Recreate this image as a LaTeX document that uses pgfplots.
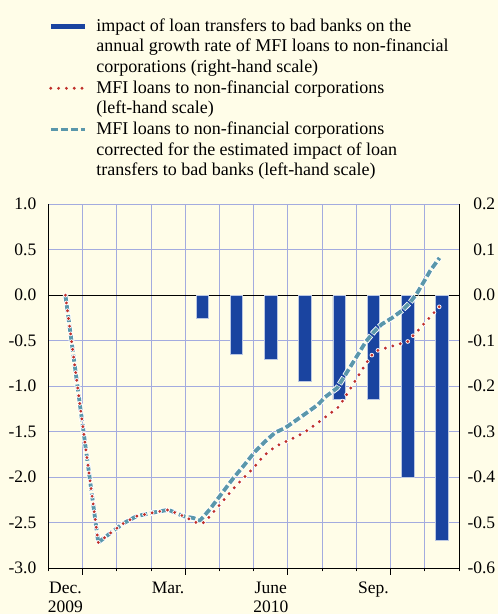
\documentclass[border=0pt]{standalone}
\usepackage{pgfplots}
\pgfplotsset{compat=1.18}
\usepackage{fontspec}
\setmainfont{Liberation Serif}
\definecolor{bgcream}{HTML}{FFFDE8}
\definecolor{gridblue}{HTML}{A3ABDF}
\definecolor{barblue}{HTML}{1A44A0}
\definecolor{dashblue}{HTML}{5A97AB}
\definecolor{dotred}{HTML}{C0302A}
\begin{document}
\begin{tikzpicture}
\fill[bgcream] (-48.3bp,-46bp) rectangle (449.7bp,568bp);
% right-hand scale: bars
\begin{axis}[
  at={(0,0)}, anchor=south west,
  scale only axis, width=410.7bp, height=363.7bp,
  xmin=-0.5, xmax=11.5, ymin=-0.6, ymax=0.2,
  axis x line*=bottom, axis y line*=right,
  axis line style={-, black, line width=0.9bp},
  xtick={-0.5,0.5,1.5,2.5,3.5,4.5,5.5,6.5,7.5,8.5,9.5,10.5,11.5},
  xticklabels={},
  ytick={-0.6,-0.5,-0.4,-0.3,-0.2,-0.1,0,0.1,0.2},
  yticklabels={-0.6,-0.5,-0.4,-0.3,-0.2,-0.1,0.0,0.1,0.2},
  major tick length=0pt,
  grid=major, grid style={gridblue, line width=0.9bp},
  extra y ticks={0}, extra y tick labels={},
  extra y tick style={grid style={black, line width=1.1bp}},
  yticklabel style={font=\fontsize{17.5bp}{20bp}\selectfont, text width=28bp, align=right, inner xsep=0pt, anchor=west, xshift=8bp},
]
\addplot[ybar, bar width=12.5bp, fill=barblue, draw=barblue!30!white, line width=0.6bp]
  coordinates {(4,-0.05) (5,-0.13) (6,-0.14) (7,-0.19) (8,-0.23) (9,-0.23) (10,-0.40) (11,-0.54)};
\end{axis}
% left-hand scale: lines
\begin{axis}[
  at={(0,0)}, anchor=south west,
  scale only axis, width=410.7bp, height=363.7bp,
  xmin=-0.5, xmax=11.5, ymin=-3, ymax=1,
  axis x line*=bottom, axis y line*=left,
  axis line style={-, black, line width=0.9bp},
  xtick={-0.5,0.5,1.5,2.5,3.5,4.5,5.5,6.5,7.5,8.5,9.5,10.5,11.5},
  xticklabels={},
  minor xtick={0.5,3.5,6.5,9.5},
  tick align=outside,
  major tick length=3.5bp, minor tick length=7bp,
  tick style={black, line width=0.9bp},
  ytick style={draw=none},
  extra x ticks={0,3,6,9},
  extra x tick labels={{Dec.\\2009},{Mar.},{June\\2010},{Sep.}},
  extra x tick style={major tick length=0pt},
  xticklabel style={font=\fontsize{17.5bp}{18.5bp}\selectfont, align=center, inner ysep=0pt, yshift=-14.2bp},
  ytick={-3,-2.5,-2,-1.5,-1,-0.5,0,0.5,1},
  yticklabels={-3.0,-2.5,-2.0,-1.5,-1.0,-0.5,0.0,0.5,1.0},
  yticklabel style={font=\fontsize{17.5bp}{20bp}\selectfont, inner xsep=0pt, xshift=-8.3bp},
  legend image code/.code={\draw[#1] (0bp,5bp) -- (34bp,5bp);},
  legend style={at={(0,1)}, anchor=north west, yshift=187.8bp, draw=none, fill=none,
    inner sep=0pt, outer sep=0pt, row sep=4.4bp, column sep=9bp,
    nodes={font=\fontsize{18bp}{21.1bp}\selectfont, inner sep=0pt},
    cells={anchor=base west}},
]
\addlegendimage{barblue, line width=5bp}
\addlegendentry{\strut impact of loan transfers to bad banks on the}
\addlegendimage{empty legend}
\addlegendentry{\strut annual growth rate of MFI loans to non-financial}
\addlegendimage{empty legend}
\addlegendentry{\strut corporations (right-hand scale)}
\addlegendimage{dotred, line width=3.2bp, line cap=round, dash pattern=on 0bp off 7.8bp}
\addlegendentry{\strut MFI loans to non-financial corporations}
\addlegendimage{empty legend}
\addlegendentry{\strut (left-hand scale)}
\addlegendimage{dashblue, line width=3.8bp, dash pattern=on 7bp off 3bp}
\addlegendentry{\strut MFI loans to non-financial corporations}
\addlegendimage{empty legend}
\addlegendentry{\strut corrected for the estimated impact of loan}
\addlegendimage{empty legend}
\addlegendentry{\strut transfers to bad banks (left-hand scale)}
% corrected series (blue dashed) with white halo
\addplot[forget plot, white, line width=5.6bp, line join=round, dash pattern=on 8bp off 2bp, dash phase=0.5bp]
  coordinates {(0,0) (0.96,-2.72) (1.30,-2.62) (1.69,-2.51) (2.08,-2.43) (2.57,-2.39) (3.01,-2.36) (3.45,-2.43) (3.74,-2.45) (3.93,-2.48) (4.23,-2.35) (4.57,-2.18) (4.91,-2.01) (5.20,-1.88) (5.54,-1.72) (5.83,-1.61) (6.13,-1.51) (6.42,-1.46) (6.76,-1.37) (7.10,-1.28) (7.39,-1.20) (7.59,-1.12) (7.94,-1.02) (8.37,-0.76) (8.78,-0.51) (9.02,-0.40) (9.24,-0.32) (9.54,-0.25) (9.83,-0.17) (10.07,-0.08) (10.27,0.02) (10.46,0.14) (10.66,0.27) (10.93,0.41)};
\addplot[forget plot, dashblue, line width=3.8bp, line join=round, dash pattern=on 7bp off 3bp]
  coordinates {(0,0) (0.96,-2.72) (1.30,-2.62) (1.69,-2.51) (2.08,-2.43) (2.57,-2.39) (3.01,-2.36) (3.45,-2.43) (3.74,-2.45) (3.93,-2.48) (4.23,-2.35) (4.57,-2.18) (4.91,-2.01) (5.20,-1.88) (5.54,-1.72) (5.83,-1.61) (6.13,-1.51) (6.42,-1.46) (6.76,-1.37) (7.10,-1.28) (7.39,-1.20) (7.59,-1.12) (7.94,-1.02) (8.37,-0.76) (8.78,-0.51) (9.02,-0.40) (9.24,-0.32) (9.54,-0.25) (9.83,-0.17) (10.07,-0.08) (10.27,0.02) (10.46,0.14) (10.66,0.27) (10.93,0.41)};
% MFI loans (red dotted) with white halo
\addplot[forget plot, white, line width=4.6bp, line cap=round, dash pattern=on 0bp off 7.8bp]
  coordinates {(0,0) (0.96,-2.72) (1.30,-2.62) (1.69,-2.51) (2.08,-2.43) (2.57,-2.39) (3.01,-2.36) (3.45,-2.43) (3.88,-2.51) (4.06,-2.50) (4.22,-2.43) (4.52,-2.30) (4.83,-2.16) (5.15,-2.03) (5.47,-1.91) (5.78,-1.77) (6.15,-1.66) (6.56,-1.59) (6.98,-1.51) (7.39,-1.40) (7.73,-1.30) (7.93,-1.25) (8.07,-1.18) (8.32,-1.03) (8.57,-0.88) (8.82,-0.73) (8.95,-0.66) (9.10,-0.61) (9.55,-0.56) (10.0,-0.51) (10.32,-0.38) (10.63,-0.25) (10.94,-0.12)};
\addplot[forget plot, dotred, line width=3.2bp, line cap=round, dash pattern=on 0bp off 7.8bp]
  coordinates {(0,0) (0.96,-2.72) (1.30,-2.62) (1.69,-2.51) (2.08,-2.43) (2.57,-2.39) (3.01,-2.36) (3.45,-2.43) (3.88,-2.51) (4.06,-2.50) (4.22,-2.43) (4.52,-2.30) (4.83,-2.16) (5.15,-2.03) (5.47,-1.91) (5.78,-1.77) (6.15,-1.66) (6.56,-1.59) (6.98,-1.51) (7.39,-1.40) (7.73,-1.30) (7.93,-1.25) (8.07,-1.18) (8.32,-1.03) (8.57,-0.88) (8.82,-0.73) (8.95,-0.66) (9.10,-0.61) (9.55,-0.56) (10.0,-0.51) (10.32,-0.38) (10.63,-0.25) (10.94,-0.12)};
\end{axis}
\pgfresetboundingbox
\path (-48.3bp,-46bp) rectangle (449.7bp,568bp);
\end{tikzpicture}
\end{document}
